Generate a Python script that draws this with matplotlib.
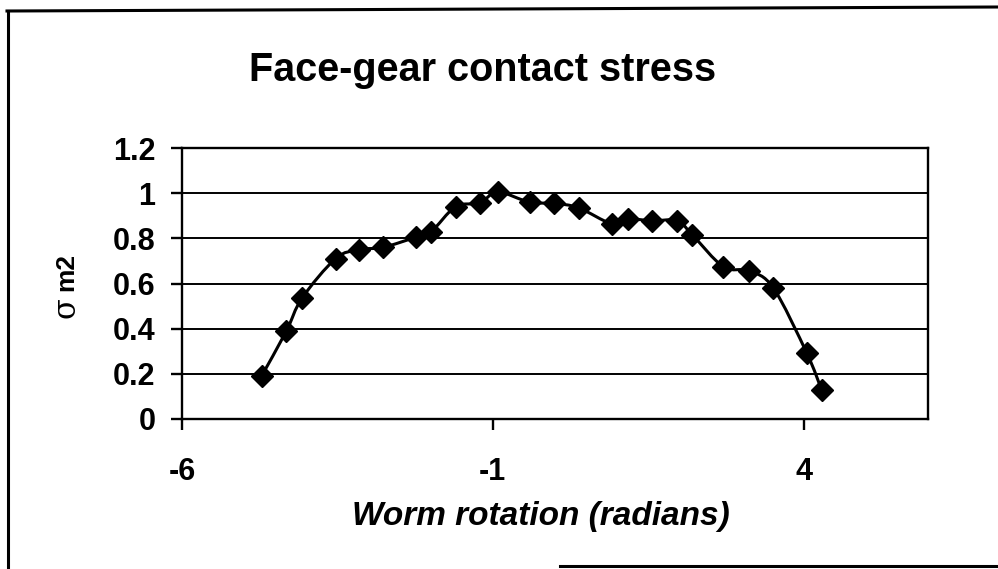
import matplotlib

matplotlib.use("Agg")

import matplotlib.pyplot as plt
import numpy as np
from matplotlib.lines import Line2D
from matplotlib.patches import PathPatch
from matplotlib.path import Path

plt.rcParams["font.family"] = ["Liberation Sans", "DejaVu Sans"]

# worm rotation (radians) vs normalised face-gear contact stress
rotation = [-4.72, -4.32, -4.07, -3.53, -3.16, -2.77, -2.24, -1.99,
            -1.60, -1.21, -0.92, -0.41, -0.01, 0.38, 0.91, 1.17,
            1.56, 1.97, 2.21, 2.71, 3.12, 3.51, 4.05, 4.29]
stress = [0.19, 0.39, 0.535, 0.71, 0.75, 0.76, 0.805, 0.83,
          0.94, 0.957, 1.005, 0.96, 0.955, 0.935, 0.865, 0.886,
          0.878, 0.878, 0.815, 0.674, 0.656, 0.581, 0.292, 0.128]

x_ticks = [-6, -1, 4]
y_ticks = [0, 0.2, 0.4, 0.6, 0.8, 1.0, 1.2]
y_tick_labels = ["0", "0.2", "0.4", "0.6", "0.8", "1", "1.2"]


def smooth_path(xs, ys):
    """Piecewise cubic Bezier through the points (spreadsheet-style smoothing)."""
    pts = np.column_stack([xs, ys])
    n = len(pts)
    verts = [pts[0]]
    codes = [Path.MOVETO]
    for i in range(n - 1):
        p0 = pts[max(i - 1, 0)]
        p1 = pts[i]
        p2 = pts[i + 1]
        p3 = pts[min(i + 2, n - 1)]
        verts += [p1 + (p2 - p0) / 6.0, p2 - (p3 - p1) / 6.0, p2]
        codes += [Path.CURVE4] * 3
    return Path(verts, codes)


W, H = 998, 569
fig = plt.figure(figsize=(W / 100, H / 100), dpi=100)
ax = fig.add_axes([182 / W, 1 - 419 / H, (928 - 182) / W, (419 - 148) / H])

ax.set_xlim(-6, 6)
ax.set_ylim(0, 1.2)

for y in y_ticks[1:-1]:
    ax.axhline(y, color="black", lw=1.4, zorder=1)

ax.add_patch(PathPatch(smooth_path(rotation, stress), fill=False,
                       edgecolor="black", lw=2.2, zorder=3))
ax.plot(rotation, stress, ls="none", marker="D", ms=11, color="black",
        zorder=4)

for side in ax.spines.values():
    side.set_linewidth(1.7)
    side.set_color("black")

ax.set_xticks(x_ticks)
ax.set_xticklabels([str(v) for v in x_ticks])
ax.set_yticks(y_ticks)
ax.set_yticklabels(y_tick_labels)
ax.tick_params(axis="both", direction="out", length=8, width=1.7,
               labelsize=22, colors="black")
ax.tick_params(axis="y", pad=11)
ax.tick_params(axis="x", pad=19)
for lab in ax.get_xticklabels() + ax.get_yticklabels():
    lab.set_fontweight("bold")

fig.text(483 / W, 1 - 70 / H, "Face-gear contact stress", ha="center",
         va="center", fontsize=28.5, fontweight="bold")
fig.text(541 / W, 1 - 517 / H, "Worm rotation (radians)", ha="center",
         va="center", fontsize=24, fontweight="bold", style="italic")

# axis label: sigma in a serif face, subscript-like "m2" in bold sans
fig.text(66 / W, 1 - 308 / H, "σ", ha="center", va="center", rotation=90,
         fontsize=22, family=["DejaVu Serif"])
fig.text(66 / W, 1 - 272 / H, "m2", ha="center", va="center", rotation=90,
         fontsize=19, fontweight="bold")

# chart-area frame
fig.add_artist(Line2D([7 / W, 1.0], [1 - 11 / H, 1 - 7 / H], color="black",
                      lw=2.2, transform=fig.transFigure))
fig.add_artist(Line2D([8 / W, 8 / W], [1 - 11 / H, 0.0], color="black",
                      lw=2.2, transform=fig.transFigure))
fig.add_artist(Line2D([560 / W, 1.0], [1 - 566 / H, 1 - 566 / H],
                      color="black", lw=2.2, transform=fig.transFigure))

fig.savefig("out.png", dpi=100, facecolor="white")
